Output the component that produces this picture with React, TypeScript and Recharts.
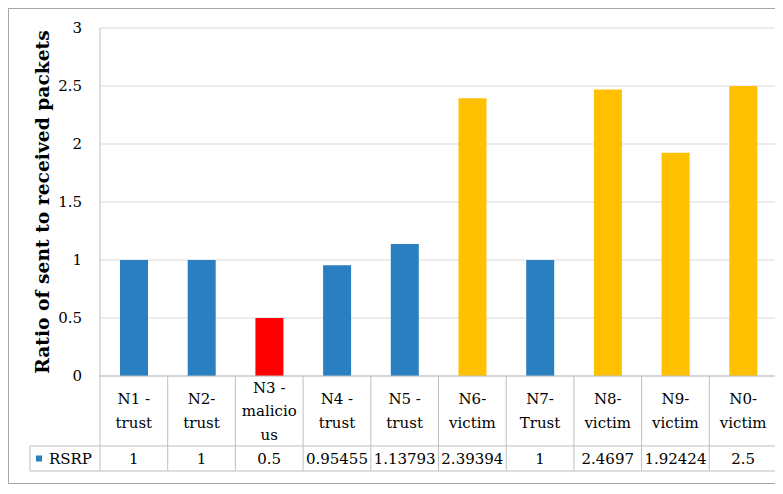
import React from 'react';
import { BarChart, Bar, XAxis, YAxis, CartesianGrid, Cell, Label } from 'recharts';

const categories = ['N1 -|trust', 'N2-|trust', 'N3 -|malicio|us', 'N4 -|trust', 'N5 -|trust', 'N6-|victim', 'N7-|Trust', 'N8-|victim', 'N9-|victim', 'N0-|victim'];
const rsrp = [1, 1, 0.5, 0.95455, 1.13793, 2.39394, 1, 2.4697, 1.92424, 2.5];
const roles = ['trust', 'trust', 'malicious', 'trust', 'trust', 'victim', 'trust', 'victim', 'victim', 'victim'];
const yTicks = [0, 0.5, 1, 1.5, 2, 2.5, 3];
const seriesName = 'RSRP';

const roleColors: Record<string, string> = {
  trust: '#2A7FC1',
  malicious: '#FF0000',
  victim: '#FFC000',
};

// Liberation Serif did not come out as a serif here, so DejaVu Serif it is
const FONT = "'DejaVu Serif', serif";
const W = 769;
const H = 474;
const MARGIN = { top: 19, right: 1, bottom: 12, left: 0 };
const Y_W = 91;
const X_H = 95;
const PLOT_W = W - MARGIN.left - MARGIN.right - Y_W;
const CELL_W = PLOT_W / categories.length;
const LABEL_ROW = 70;
const LINE = '#bfbfbf';

const data = categories.map((c, i) => ({ name: c, value: rsrp[i], role: roles[i] }));

const txt = { fontFamily: FONT, fontSize: 15, fill: '#000' };

// draws one column of the data table under the plot
const TableTick = (props: any) => {
  const { x, y, index } = props;
  const lines = categories[index].split('|');
  const left = x - CELL_W / 2;
  const right = x + CELL_W / 2;
  const lh = 23.5;
  const midY = y + LABEL_ROW / 2;
  const firstY = midY - ((lines.length - 1) * lh) / 2;
  const valY = y + LABEL_ROW + (X_H - LABEL_ROW) / 2;
  const legendLeft = 21;
  return (
    <g>
      <line x1={left} x2={left} y1={y} y2={y + X_H} stroke={LINE} />
      {index === categories.length - 1 && (
        <line x1={right} x2={right} y1={y} y2={y + X_H} stroke={LINE} />
      )}
      <line x1={left} x2={right} y1={y + LABEL_ROW} y2={y + LABEL_ROW} stroke={LINE} />
      <line x1={left} x2={right} y1={y + X_H} y2={y + X_H} stroke={LINE} />
      {lines.map((l, i) => (
        <text key={i} x={x} y={firstY + i * lh} textAnchor="middle" dominantBaseline="central" style={txt}>{l}</text>
      ))}
      <text x={x} y={valY} textAnchor="middle" dominantBaseline="central" style={txt}>{String(rsrp[index])}</text>
      {index === 0 && (
        <g>
          <line x1={legendLeft} x2={left} y1={y + LABEL_ROW} y2={y + LABEL_ROW} stroke={LINE} />
          <line x1={legendLeft} x2={left} y1={y + X_H} y2={y + X_H} stroke={LINE} />
          <line x1={legendLeft} x2={legendLeft} y1={y + LABEL_ROW} y2={y + X_H} stroke={LINE} />
          <rect x={legendLeft + 6} y={valY - 3} width={6} height={6} fill={roleColors.trust} />
          <text x={legendLeft + 19} y={valY} dominantBaseline="central" style={txt}>{seriesName}</text>
        </g>
      )}
    </g>
  );
};

export default function App() {
  return (
    <div style={{ width: W, height: H, border: '1px solid #a6a6a6', background: '#fff', fontFamily: FONT }}>
      <BarChart width={W} height={H} data={data} margin={MARGIN} barSize={28} style={{ fontFamily: FONT }}>
        <CartesianGrid vertical={false} stroke="#d9d9d9" />
        <XAxis dataKey="name" height={X_H} interval={0} tickLine={false} tickSize={0} tickMargin={0}
          axisLine={{ stroke: LINE }} tick={<TableTick />} />
        <YAxis width={Y_W} domain={[0, 3]} ticks={yTicks} tickLine={false} tickSize={0} tickMargin={18}
          axisLine={{ stroke: LINE }} tick={{ style: { fontFamily: FONT }, fontSize: 15, fill: '#000' }}>
          <Label value="Ratio of sent to received packets" angle={-90} position="insideLeft" offset={33}
            style={{ textAnchor: 'middle', fontFamily: FONT, fontWeight: 'bold', fontSize: 18.7, fill: '#000' }} />
        </YAxis>
        <Bar dataKey="value" name={seriesName} isAnimationActive={false}>
          {data.map((d, i) => (
            <Cell key={i} fill={roleColors[d.role]} />
          ))}
        </Bar>
      </BarChart>
    </div>
  );
}
